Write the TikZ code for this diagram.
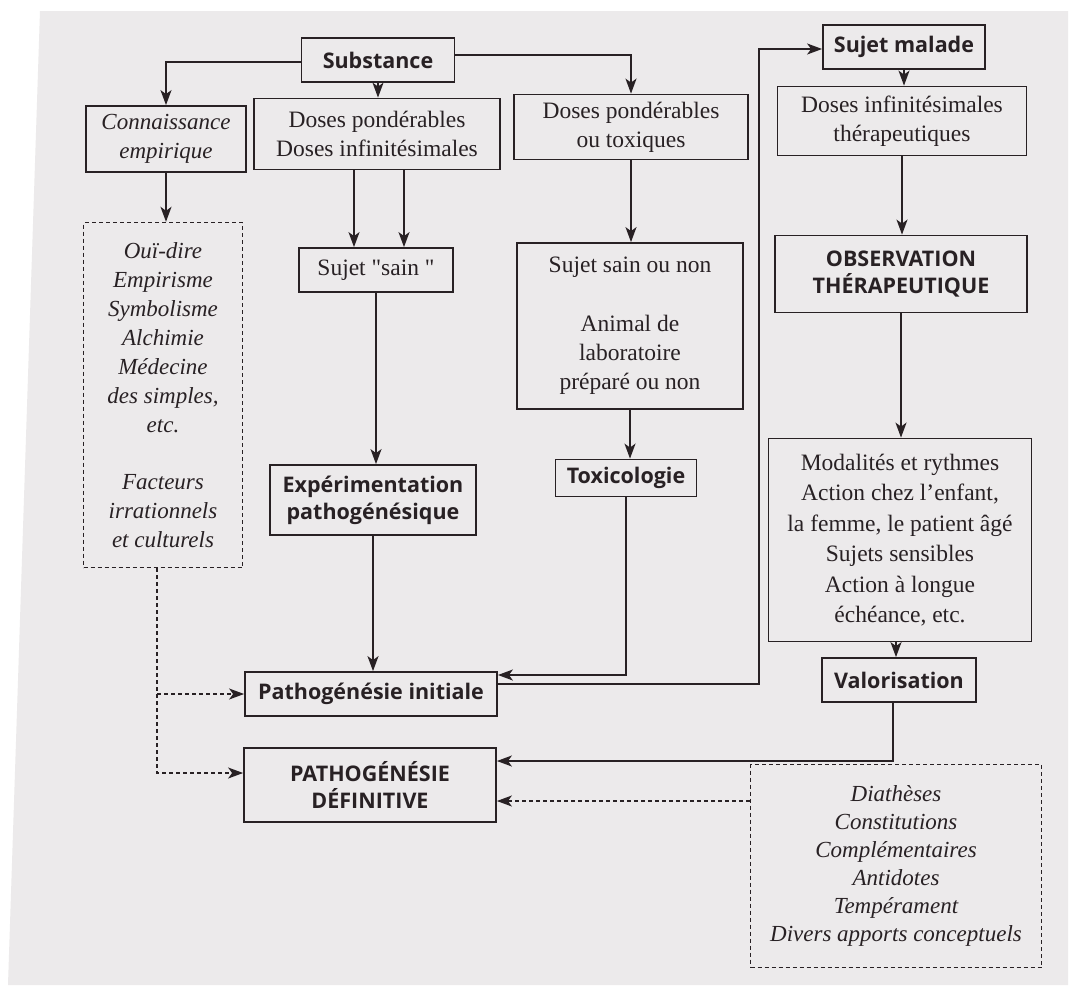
\documentclass[tikz,border=0pt]{standalone}
\usepackage{fontspec}
\setmainfont{Liberation Serif}
\newfontfamily\boldsans{Open Sans}
\newfontfamily\plainquote{Liberation Serif}[Ligatures=TeXOff]
\usetikzlibrary{arrows.meta}

\definecolor{ink}{RGB}{40,33,36}
\definecolor{paper}{RGB}{236,234,235}

\tikzset{
	box/.style={draw=ink, line width=1.8pt, text=ink, inner sep=0pt, align=center, font=\fontsize{23.5}{29}\selectfont},
	itbox/.style={box, font=\itshape\fontsize{23}{29}\selectfont},
	titlebox/.style={box, font=\boldsans\bfseries\fontsize{21.5}{27}\selectfont},
	notebox/.style={itbox, dash pattern=on 4pt off 3pt, line width=1.4pt},
	arr/.style={draw=ink, line width=1.7pt, -{Stealth[length=15pt,width=11pt,inset=4pt]}},
	darr/.style={arr, line width=1.4pt, dash pattern=on 4pt off 3pt},
}

\begin{document}
\begin{tikzpicture}[x=1pt,y=-1pt]
	\useasboundingbox (0,0) rectangle (1081,985);
	% paper
	\fill[white] (0,0) rectangle (1081,985);
	\fill[paper] (40,11) -- (1068,11) -- (1068,985) -- (8,985) -- cycle;
	
	% Text Node
	\node[titlebox, minimum width=153pt, minimum height=44pt] (subst) at (378,60) {Substance};
	% Text Node
	\node[itbox, minimum width=160pt, minimum height=66pt] (conn) at (166,139) {Connaissance\\empirique};
	% Text Node
	\node[box, minimum width=246pt, minimum height=71pt] (doses1) at (377,134) {Doses pondérables\\Doses infinitésimales};
	% Text Node
	\node[box, minimum width=234pt, minimum height=65pt] (doses2) at (631,127) {Doses pondérables\\ou toxiques};
	% Text Node
	\node[titlebox, minimum width=162pt, minimum height=44pt] (malade) at (904,47) {Sujet malade};
	% Text Node
	\node[box, minimum width=249pt, minimum height=69pt] (therap) at (902,121) {Doses infinitésimales\\thérapeutiques};
	% Text Node
	\node[notebox, minimum width=159pt, minimum height=345pt] (oui) at (163,395) {Ouï-dire\\Empirisme\\Symbolisme\\Alchimie\\Médecine\\des simples,\\etc.\\[28pt]Facteurs\\irrationnels\\et culturels};
	% Text Node
	\node[box, minimum width=154pt, minimum height=44pt] (sain) at (376,270) {Sujet {\plainquote"}sain {\plainquote"}};
	% Text Node
	\node[box, minimum width=226pt, minimum height=166pt] (sainnon) at (630,326) {Sujet sain ou non\\[30pt]Animal de\\laboratoire\\préparé ou non};
	% Text Node
	\node[titlebox, minimum width=252pt, minimum height=77pt] (obs) at (901,274) {OBSERVATION\\THÉRAPEUTIQUE};
	% Text Node
	\node[titlebox, minimum width=206pt, minimum height=70pt] (exper) at (373,500) {Expérimentation\\pathogénésique};
	% Text Node
	\node[titlebox, minimum width=141pt, minimum height=37pt] (toxi) at (626,478) {Toxicologie};
	% Text Node
	\node[box, minimum width=263pt, minimum height=203pt, font=\fontsize{23.5}{30.5}\selectfont] (modal) at (900,540) {Modalités et rythmes\\Action chez l’enfant,\\la femme, le patient âgé\\Sujets sensibles\\Action à longue\\échéance, etc.};
	% Text Node
	\node[titlebox, minimum width=154pt, minimum height=44pt] (valor) at (899,680) {Valorisation};
	% Text Node
	\node[titlebox, minimum width=252pt, minimum height=44pt] (pinit) at (371,694) {Pathogénésie initiale};
	% Text Node
	\node[titlebox, minimum width=252pt, minimum height=74pt] (pdef) at (370,785) {PATHOGÉNÉSIE\\DÉFINITIVE};
	% Text Node
	\node[notebox, minimum width=291pt, minimum height=203pt, font=\itshape\fontsize{23}{28}\selectfont] (diath) at (896,866) {Diathèses\\Constitutions\\Complémentaires\\Antidotes\\Tempérament\\Divers apports conceptuels};
	
	%Straight Lines
	\draw[arr] ([yshift=-2pt]subst.west) -| (conn.north);
	\draw[arr] ([yshift=5pt]subst.east) -| (doses2.north);
	\draw[arr] (subst.south) -- (subst.south |- doses1.north);
	\draw[arr] (conn.south) -- (conn.south |- oui.north);
	\draw[arr] ([xshift=-23pt]doses1.south) -- ([xshift=-23pt]doses1.south |- sain.north);
	\draw[arr] ([xshift=27pt]doses1.south) -- ([xshift=27pt]doses1.south |- sain.north);
	\draw[arr] (doses2.south) -- (doses2.south |- sainnon.north);
	\draw[arr] (sain.south) -- (sain.south |- exper.north);
	\draw[arr] (sainnon.south) -- (sainnon.south |- toxi.north);
	\draw[arr] (exper.south) -- (exper.south |- pinit.north);
	\draw[arr] (toxi.south) |- ([yshift=19pt]pinit.east);
	\coordinate (back) at (759,400);
	\draw[arr] ([yshift=10pt]pinit.east) -| (back) |- ([yshift=-2pt]malade.west);
	\draw[arr] (malade.south) -- (malade.south |- therap.north);
	\draw[arr] (therap.south) -- (therap.south |- obs.north);
	\draw[arr] (obs.south) -- (obs.south |- modal.north);
	\draw[arr] ([xshift=-4pt]modal.south) -- ([xshift=-4pt]modal.south |- valor.north);
	\draw[arr] ([xshift=-6pt]valor.south) |- ([yshift=24pt]pdef.east);
	\coordinate (pdefin) at ([yshift=-16pt]pdef.east);
	\draw[darr] (diath.west |- pdefin) -- (pdefin);
	\coordinate (split) at ([xshift=-6pt]oui.south);
	\draw[darr] (split) |- (pinit.west);
	\draw[darr] (split) |- ([yshift=12pt]pdef.west);
	
\end{tikzpicture}
\end{document}
